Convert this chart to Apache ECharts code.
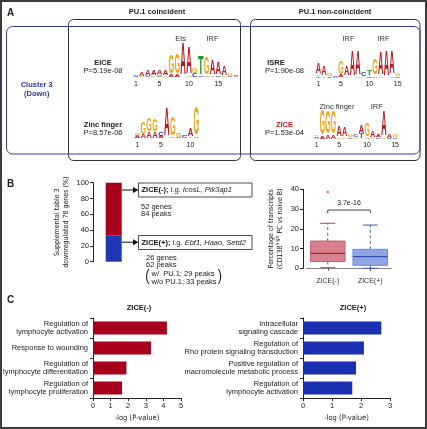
<!DOCTYPE html>
<html><head><meta charset="utf-8">
<script src="https://cdn.jsdelivr.net/npm/echarts@6/dist/echarts.min.js"></script>
<style>html,body{margin:0;padding:0;background:#fff}#c{width:427px;height:429px}</style>
</head><body><div id="c"></div>
<script>
const FONT = '"Liberation Sans", Arial, sans-serif';
const NARROW = '"Liberation Sans Narrow", "DejaVu Sans Condensed", "Liberation Sans", Arial, sans-serif';

// ---------- Panel A: motif logos (columns, letters bottom -> top, [letter, bits]) ----------
const eiceLogo = [
  [["C",0.05],["A",0.08]], [["G",0.08],["A",0.25]], [["C",0.06],["A",0.4]], [["G",0.1],["A",0.3]],
  [["C",0.08],["G",0.12],["A",0.22]], [["G",0.1],["A",0.3]], [["A",0.15],["G",1.1]], [["A",0.12],["G",1.15]],
  [["A",1.85]], [["G",0.08],["A",1.55]], [["C",0.25],["G",0.3]], [["C",0.1],["T",1.05]],
  [["A",0.1],["G",1.0]], [["G",0.1],["A",0.85]], [["C",0.1],["A",0.7]], [["G",0.1],["A",0.55]],
  [["C",0.1],["G",0.12]], [["A",0.06],["C",0.08]]
];
const eiceTicks = [1,5,10,15];
const isreLogo = [
  [["T",0.08],["G",0.1],["A",0.6]], [["G",0.08],["A",0.55]], [["C",0.1],["G",0.12]], [["A",0.05],["C",0.1]],
  [["A",0.15],["G",0.8]], [["G",0.1],["A",0.55]], [["A",1.5]], [["G",0.06],["A",1.4]],
  [["G",0.1],["C",0.25]], [["C",0.1],["T",0.3]], [["A",0.1],["G",0.95]], [["G",0.08],["A",1.35]],
  [["A",1.45]], [["G",0.1],["A",1.35]], [["C",0.08],["G",0.12]]
];
const isreTicks = [1,5,10,15];
const zincLogo = [
  [["A",0.12],["G",0.12]], [["A",0.2],["G",0.7]], [["A",0.35],["G",0.75]], [["A",0.35],["G",0.7]],
  [["A",0.12],["C",0.2]], [["A",1.65]], [["A",0.1],["G",1.05]], [["C",0.08],["G",0.15],["A",0.1]],
  [["C",0.12],["A",0.1]], [["G",0.1],["A",0.45]], [["A",0.05],["G",1.6]]
];
const zincTicks = [1,5,10];
const ziceLogo = [
  [["A",0.08],["C",0.06],["G",0.1]], [["A",0.12],["G",1.5]], [["A",0.2],["G",1.35]], [["A",0.2],["G",1.3]],
  [["G",0.1],["A",0.6]], [["G",0.1],["A",0.55]], [["C",0.1],["G",0.15]], [["G",0.1],["C",0.12]],
  [["T",0.3],["A",0.45]], [["A",0.1],["G",0.75]], [["G",0.1],["A",0.35]], [["C",0.08],["A",0.12]],
  [["G",0.08],["A",1.45]], [["C",0.06],["A",0.2]], [["C",0.1],["G",0.15]]
];
const ziceTicks = [1,5,10,15];

// ---------- Panel B ----------
const stackCategories = ['78 genes'];
const zicePlusPct = [33.3];
const ziceMinusPct = [66.7];
const boxCategories = ['ZICE(-)', 'ZICE(+)'];
const boxStats = [[0.3, 3.4, 7.6, 13.8, 22.8], [0, 1.5, 5.9, 9.6, 21.9]];
const boxOutliers = [['ZICE(-)', 38.6]];
const sigLevel = 29.5;
const sigLabel = '3.7e-16';

// ---------- Panel C ----------
const goMinusTerms = ['Regulation of\nlymphocyte activation', 'Response to wounding', 'Regulation of\nlymphocyte differentiation', 'Regulation of\nlymphocyte proliferation'];
const goMinusValues = [4.2, 3.3, 1.9, 1.65];
const goPlusTerms = ['Intracellular\nsignaling cascade', 'Regulation of\nRho protein signaling transduction', 'Positive regulation of\nmacromolecule metabolic process', 'Regulation of\nlymphocyte activation'];
const goPlusValues = [2.7, 2.1, 1.83, 1.7];

// ---------- helpers ----------
const LETTERS = 'ACGT';
const LCOL = {A:'#c0141e', C:'#2233cc', G:'#f0a416', T:'#1e9a2a'};
const GW = {A:0.722, C:0.722, G:0.778, T:0.611};
function logoData(cols){
  const d = [];
  cols.forEach((col, i) => { let b = 0; col.forEach(([L, h]) => { d.push([i + 1, b, b + h, LETTERS.indexOf(L)]); b += h; }); });
  return d;
}
function renderLetter(params, api){
  const p = api.value(0), y0 = api.value(1), y1 = api.value(2), li = api.value(3);
  const a = api.coord([p - 0.5, y0]), b = api.coord([p + 0.5, y1]);
  const w = (b[0] - a[0]) * 0.95, h = a[1] - b[1];
  if (h < 0.4) return null;
  const L = LETTERS[li], S = 40;
  return {type:'text', x:(a[0] + b[0]) / 2, y:(a[1] + b[1]) / 2,
    scaleX: w / (GW[L] * S), scaleY: h / (0.716 * S),
    style:{text:L, font:'bold 40px ' + FONT, fill:LCOL[L], align:'center', verticalAlign:'middle'}};
}
function logoSeries(cols, gi){
  return {type:'custom', xAxisIndex:gi, yAxisIndex:gi, data:logoData(cols), clip:false, silent:true,
    encode:{x:0, y:[1,2]}, renderItem:renderLetter};
}
function logoAxes(n, ticks, gi){
  return [{gridIndex:gi, type:'value', min:0.5, max:n + 0.5, axisLine:{show:false}, axisTick:{show:false}, splitLine:{show:false},
      axisLabel:{customValues:ticks, fontSize:7, margin:3, color:'#222', fontFamily:FONT}},
    {gridIndex:gi, type:'value', min:0, max:2, show:false, splitLine:{show:false}}];
}
const BOXCOL = [
  {fill:'#d6828e', edge:'#c4606e', med:'#a3101e', wh:'#c8384c'},
  {fill:'#8fa6e3', edge:'#6e89d6', med:'#1f3aa8', wh:'#3a58c8'}
];
function renderBox(params, api){
  const i = api.value(0);
  const c = BOXCOL[params.dataIndex];
  const xm = api.coord([i, 0])[0];
  const yv = [1,2,3,4,5].map(k => api.coord([i, api.value(k)])[1]);
  const hw = 17.3, cap = 7.5;
  return {type:'group', children:[
    {type:'line', shape:{x1:xm, y1:yv[3], x2:xm, y2:yv[4]}, style:{stroke:c.wh, lineWidth:1, lineDash:[3,2.5]}},
    {type:'line', shape:{x1:xm, y1:yv[1], x2:xm, y2:yv[0]}, style:{stroke:c.wh, lineWidth:1, lineDash:[3,2.5]}},
    {type:'line', shape:{x1:xm - cap, y1:yv[4], x2:xm + cap, y2:yv[4]}, style:{stroke:c.wh, lineWidth:1}},
    {type:'line', shape:{x1:xm - cap, y1:yv[0], x2:xm + cap, y2:yv[0]}, style:{stroke:c.wh, lineWidth:1}},
    {type:'rect', shape:{x:xm - hw, y:yv[3], width:2 * hw, height:yv[1] - yv[3]}, style:{fill:c.fill, stroke:c.edge, lineWidth:1}},
    {type:'line', shape:{x1:xm - hw, y1:yv[2], x2:xm + hw, y2:yv[2]}, style:{stroke:c.med, lineWidth:1}}
  ]};
}
function renderSig(params, api){
  const a = api.coord([api.value(0), api.value(2)]), b = api.coord([api.value(1), api.value(2)]);
  return {type:'group', children:[
    {type:'polyline', shape:{points:[[a[0], a[1] + 3], [a[0], a[1]], [b[0], b[1]], [b[0], b[1] + 3]]}, style:{stroke:'#444', lineWidth:1, fill:null}},
    {type:'text', x:(a[0] + b[0]) / 2, y:a[1] - 6.5, style:{text:sigLabel, font:'7px ' + FONT, fill:'#222', align:'center', verticalAlign:'middle'}}
  ]};
}

const axisLineStyle = {show:true, lineStyle:{color:'#222', width:1}};
const tickStyle = {show:true, length:3, lineStyle:{color:'#222', width:1}};

const xAxes = [], yAxes = [];
[[eiceLogo, eiceTicks], [isreLogo, isreTicks], [zincLogo, zincTicks], [ziceLogo, ziceTicks]].forEach(([cols, t], gi) => {
  const [x, y] = logoAxes(cols.length, t, gi); xAxes.push(x); yAxes.push(y);
});
// grid 4: stacked bar
xAxes.push({gridIndex:4, type:'category', data:stackCategories, show:false});
yAxes.push({gridIndex:4, type:'value', min:0, max:100, interval:20, axisLine:axisLineStyle, axisTick:tickStyle, splitLine:{show:false},
  axisLabel:{fontSize:7.5, margin:4, color:'#222', fontFamily:FONT},
  name:'Supplemental table 3\ndownregulated 78 genes (%)', nameLocation:'middle', nameGap:23,
  nameTextStyle:{fontSize:7, lineHeight:8.5, color:'#222', fontFamily:NARROW}});
// grid 5: boxplot
xAxes.push({gridIndex:5, type:'category', data:boxCategories, offset:2,
  axisLine:{show:true, lineStyle:{color:'#888', width:1}},
  axisTick:{show:true, alignWithLabel:true, length:2.5, lineStyle:{color:'#555', width:1}},
  axisLabel:{fontSize:7, margin:7, color:'#333', fontFamily:FONT}});
yAxes.push({gridIndex:5, type:'value', min:0, max:40, interval:10, offset:3.5, axisLine:axisLineStyle, axisTick:tickStyle, splitLine:{show:false},
  axisLabel:{fontSize:7.5, margin:4, color:'#222', fontFamily:FONT},
  name:'Percentage of transcripts\n(CD138{sup|high} PC vs naive B)', nameLocation:'middle', nameGap:19,
  nameTextStyle:{fontSize:7, lineHeight:8.5, color:'#222', fontFamily:NARROW, rich:{sup:{fontSize:5, verticalAlign:'top', fontFamily:NARROW, color:'#222'}}}});
// grids 6,7: GO bars
[[goMinusTerms, 5, 6], [goPlusTerms, 3, 7]].forEach(([terms, mx, gi]) => {
  xAxes.push({gridIndex:gi, type:'value', min:0, max:mx, interval:1, axisLine:axisLineStyle, axisTick:tickStyle, splitLine:{show:false},
    axisLabel:{fontSize:7.5, margin:4, color:'#222', fontFamily:FONT},
    name:'-log (P-value)', nameLocation:'middle', nameGap:16, nameTextStyle:{fontSize:7.5, color:'#222', fontFamily:NARROW}});
  yAxes.push({gridIndex:gi, type:'category', data:terms, inverse:true, axisLine:axisLineStyle, axisTick:tickStyle, splitLine:{show:false},
    axisLabel:{fontSize:7.5, lineHeight:8.5, margin:5, color:'#222', fontFamily:FONT, align:'right'}});
});

function txt(x, y, text, opt){
  opt = opt || {};
  return {type:'text', x, y, z:10, style:Object.assign({text, font:(opt.weight || 'normal') + ' ' + (opt.size || 7.5) + 'px ' + FONT,
    fill:opt.color || '#222', align:opt.align || 'center', verticalAlign:'middle'}, opt.style || {})};
}
function rrect(x, y, w, h, r, stroke, lw){
  return {type:'rect', z:1, shape:{x, y, width:w, height:h, r}, style:{fill:null, stroke, lineWidth:lw || 1}};
}
const graphics = [
  rrect(1, 1, 425, 427, 0, '#3c3c3c', 2),
  rrect(68.5, 19.5, 172, 141, 5, '#333', 1),
  rrect(250.5, 19.5, 169.5, 141, 5, '#333', 1),
  rrect(6.5, 26.5, 413.5, 127.5, 6, '#3b3b9c', 1),
  txt(7, 13.5, 'A', {weight:'bold', size:10, align:'left'}),
  txt(7, 184, 'B', {weight:'bold', size:10, align:'left'}),
  txt(7, 300, 'C', {weight:'bold', size:10, align:'left'}),
  txt(157, 12.3, 'PU.1 coincident', {weight:'bold'}),
  txt(335, 12.3, 'PU.1 non-coincident', {weight:'bold'}),
  txt(36.7, 85.3, 'Cluster 3', {weight:'bold', color:'#2a3ab0'}),
  txt(36.7, 94.3, '(Down)', {weight:'bold', color:'#2a3ab0'}),
  txt(103, 63.3, 'EICE', {weight:'bold'}),
  txt(103, 71, 'P=5.19e-08'),
  txt(103, 125, 'Zinc finger', {weight:'bold'}),
  txt(103, 133.3, 'P=8.57e-06'),
  txt(276, 63.3, 'ISRE', {weight:'bold'}),
  txt(284.5, 71, 'P=1.90e-08'),
  txt(284.5, 125, 'ZICE', {weight:'bold', color:'#d01818'}),
  txt(284.5, 133.3, 'P=1.53e-04'),
  txt(180.7, 39.3, 'Ets', {color:'#333'}),
  txt(212.5, 39.3, 'IRF', {color:'#333'}),
  txt(348.5, 39.3, 'IRF', {color:'#333'}),
  txt(383.5, 39.3, 'IRF', {color:'#333'}),
  txt(337, 107.3, 'Zinc finger', {color:'#333'}),
  txt(376.7, 107.3, 'IRF', {color:'#333'}),
  // panel B annotations
  {type:'rect', z:1, shape:{x:138.5, y:183, width:113.5, height:14}, style:{fill:'#fff', stroke:'#222', lineWidth:0.8}},
  {type:'rect', z:1, shape:{x:138.5, y:235.5, width:113.5, height:14}, style:{fill:'#fff', stroke:'#222', lineWidth:0.8}},
  {type:'text', x:141.5, y:190.3, z:10, style:{text:'{b|ZICE(-);} i.g. {i|IcosL, Pik3ap1}', font:'7.5px ' + FONT, fill:'#222', align:'left', verticalAlign:'middle',
    rich:{b:{fontWeight:'bold', fontSize:7.5, fontFamily:FONT, fill:'#111'}, i:{fontStyle:'italic', fontSize:7.5, fontFamily:FONT}}}},
  {type:'text', x:141.5, y:242.8, z:10, style:{text:'{b|ZICE(+);} i.g. {i|Ebf1, Haao, Setd2}', font:'7.5px ' + FONT, fill:'#222', align:'left', verticalAlign:'middle',
    rich:{b:{fontWeight:'bold', fontSize:7.5, fontFamily:FONT, fill:'#111'}, i:{fontStyle:'italic', fontSize:7.5, fontFamily:FONT}}}},
  txt(141, 206.7, '52 genes', {align:'left'}),
  txt(141, 214.3, '84 peaks', {align:'left'}),
  txt(146, 257.7, '26 genes', {align:'left'}),
  txt(146, 265.3, '62 peaks', {align:'left'}),
  txt(151.5, 273.5, 'w/  PU.1; 29 peaks', {align:'left'}),
  txt(151.5, 281.5, 'w/o PU.1; 33 peaks', {align:'left'}),
  {type:'text', x:147.5, y:277, z:10, scaleX:0.8, style:{text:'(', font:'16px ' + FONT, fill:'#222', align:'center', verticalAlign:'middle'}},
  {type:'text', x:220, y:277, z:10, scaleX:0.8, style:{text:')', font:'16px ' + FONT, fill:'#222', align:'center', verticalAlign:'middle'}},
  {type:'polyline', z:5, shape:{points:[[122,190],[134,190]]}, style:{stroke:'#111', lineWidth:1}},
  {type:'polygon', z:5, shape:{points:[[133,187],[138.5,190],[133,193]]}, style:{fill:'#111'}},
  {type:'polyline', z:5, shape:{points:[[122,242.2],[134,242.2]]}, style:{stroke:'#111', lineWidth:1}},
  {type:'polygon', z:5, shape:{points:[[133,239.2],[138.5,242.2],[133,245.2]]}, style:{fill:'#111'}},
  // panel C titles
  txt(139, 308.3, 'ZICE(-)', {weight:'bold'}),
  txt(353, 308.3, 'ZICE(+)', {weight:'bold'})
];

const option = {
  animation:false,
  backgroundColor:'#fff',
  textStyle:{fontFamily:FONT},
  grid:[
    {left:133.1, top:43.5, width:105.8, height:34},
    {left:315.5, top:43.7, width:85, height:34},
    {left:134.4, top:104.3, width:64.9, height:34},
    {left:313.9, top:105, width:84, height:34},
    {left:93, top:182.7, width:41.4, height:79},
    {left:306.5, top:189.3, width:85, height:79},
    {left:93, top:318, width:88, height:80},
    {left:303, top:318, width:87, height:80}
  ],
  xAxis:xAxes,
  yAxis:yAxes,
  series:[
    logoSeries(eiceLogo, 0), logoSeries(isreLogo, 1), logoSeries(zincLogo, 2), logoSeries(ziceLogo, 3),
    {type:'bar', xAxisIndex:4, yAxisIndex:4, stack:'pct', data:zicePlusPct, barWidth:16, itemStyle:{color:'#1f37b3'}},
    {type:'bar', xAxisIndex:4, yAxisIndex:4, stack:'pct', data:ziceMinusPct, barWidth:16, itemStyle:{color:'#a6001d'}},
    {type:'custom', xAxisIndex:5, yAxisIndex:5, data:boxStats.map((s, i) => [i].concat(s)), encode:{x:0, y:[1,2,3,4,5]}, renderItem:renderBox, clip:false},
    {type:'scatter', xAxisIndex:5, yAxisIndex:5, data:boxOutliers, symbol:'circle', symbolSize:2.5, itemStyle:{color:'#d83a50'}},
    {type:'custom', xAxisIndex:5, yAxisIndex:5, data:[[0, 1, sigLevel]], encode:{y:2}, renderItem:renderSig, clip:false},
    {type:'bar', xAxisIndex:6, yAxisIndex:6, data:goMinusValues, barWidth:13, itemStyle:{color:'#a6001d'}},
    {type:'bar', xAxisIndex:7, yAxisIndex:7, data:goPlusValues, barWidth:13, itemStyle:{color:'#1b30b0'}}
  ],
  graphic:graphics
};
const chart = echarts.init(document.getElementById('c'), null, {renderer:'canvas'});
chart.setOption(option);
</script>
</body></html>
